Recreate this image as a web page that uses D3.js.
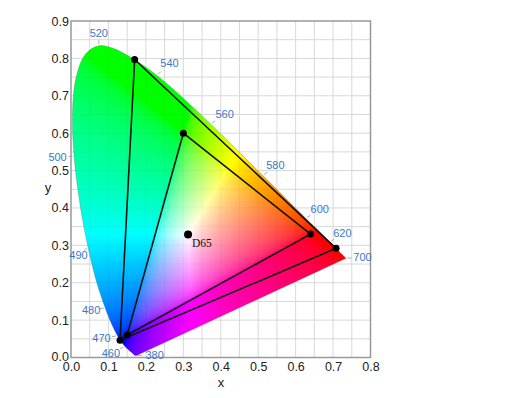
<!DOCTYPE html>
<html>
<head>
<meta charset="utf-8">
<script src="https://cdn.jsdelivr.net/npm/d3@7"></script>
<style>
  body { margin: 0; background: #fff; }
  svg { display: block; font-family: "Liberation Sans", Arial, sans-serif; }
</style>
</head>
<body>
<svg id="chart" width="528" height="398"></svg>
<script>
// CIE 1931 spectral locus, 5 nm steps from 380 to 700 nm
const wavelengths = d3.range(380, 701, 5);
const locusX = [0.1741, 0.1740, 0.1738, 0.1736, 0.1733, 0.1730, 0.1726, 0.1721, 0.1714, 0.1703,
  0.1689, 0.1669, 0.1644, 0.1611, 0.1566, 0.1510, 0.1440, 0.1355, 0.1241, 0.1096,
  0.0913, 0.0687, 0.0454, 0.0235, 0.0082, 0.0039, 0.0139, 0.0389, 0.0743, 0.1142,
  0.1547, 0.1929, 0.2296, 0.2658, 0.3016, 0.3373, 0.3731, 0.4087, 0.4441, 0.4788,
  0.5125, 0.5448, 0.5752, 0.6029, 0.6270, 0.6482, 0.6658, 0.6801, 0.6915, 0.7006,
  0.7079, 0.7140, 0.7190, 0.7230, 0.7260, 0.7283, 0.7300, 0.7311, 0.7320, 0.7327,
  0.7334, 0.7340, 0.7344, 0.7346, 0.7347];
const locusY = [0.0050, 0.0050, 0.0049, 0.0049, 0.0048, 0.0048, 0.0048, 0.0048, 0.0051, 0.0058,
  0.0069, 0.0086, 0.0109, 0.0138, 0.0177, 0.0227, 0.0297, 0.0399, 0.0578, 0.0868,
  0.1327, 0.2007, 0.2950, 0.4127, 0.5384, 0.6548, 0.7502, 0.8120, 0.8338, 0.8262,
  0.8059, 0.7816, 0.7543, 0.7243, 0.6923, 0.6589, 0.6245, 0.5896, 0.5547, 0.5202,
  0.4866, 0.4544, 0.4242, 0.3965, 0.3725, 0.3514, 0.3340, 0.3197, 0.3083, 0.2993,
  0.2920, 0.2859, 0.2809, 0.2770, 0.2740, 0.2717, 0.2700, 0.2689, 0.2680, 0.2673,
  0.2666, 0.2660, 0.2656, 0.2654, 0.2653];

// labelled wavelengths along the locus
const labelWavelengths = [380, 460, 470, 480, 490, 500, 520, 540, 560, 580, 600, 620, 700];

// colour spaces: primaries R, G, B
const rec2020 = [[0.708, 0.292], [0.170, 0.797], [0.131, 0.046]];
const rec709 = [[0.640, 0.330], [0.300, 0.600], [0.150, 0.060]];
const whitePoint = { name: 'D65', x: 0.3127, y: 0.3290 };

const xTicks = d3.range(0, 0.81, 0.1);
const yTicks = d3.range(0, 0.91, 0.1);

const svg = d3.select('#chart');
const plotLeft = 71, plotRight = 370.5, plotTop = 21, plotBottom = 357.5;

const x = d3.scaleLinear().domain([0, 0.8]).range([plotLeft, plotRight]);
const y = d3.scaleLinear().domain([0, 0.9]).range([plotBottom, plotTop]);

const locus = wavelengths.map((w, i) => ({ w: w, x: locusX[i], y: locusY[i] }));

// grid lines every 0.05
function drawGrid(g, color, opacity) {
    g.selectAll(null).data(d3.range(0.05, 0.8, 0.05)).enter().append('line')
        .attr('x1', d => x(d)).attr('x2', d => x(d))
        .attr('y1', plotTop).attr('y2', plotBottom)
        .attr('stroke', color).attr('stroke-opacity', opacity).attr('stroke-width', 1);
    g.selectAll(null).data(d3.range(0.05, 0.9, 0.05)).enter().append('line')
        .attr('y1', d => y(d)).attr('y2', d => y(d))
        .attr('x1', plotLeft).attr('x2', plotRight)
        .attr('stroke', color).attr('stroke-opacity', opacity).attr('stroke-width', 1);
}
drawGrid(svg.append('g'), '#d8d8d8', 1);

// paint chromaticity colours into a canvas, then clip it with the locus
const cw = Math.ceil(plotRight - plotLeft), ch = Math.ceil(plotBottom - plotTop);
const cnv = document.createElement('canvas');
cnv.width = cw; cnv.height = ch;
const ctx = cnv.getContext('2d');
const img = ctx.createImageData(cw, ch);
const gamma = v => v <= 0.0031308 ? 12.92 * v : 1.055 * Math.pow(v, 1 / 2.4) - 0.055;
for (let j = 0; j < ch; j++) {
    const cy = y.invert(plotTop + j + 0.5);
    for (let i = 0; i < cw; i++) {
        const cx = x.invert(plotLeft + i + 0.5);
        const k = (j * cw + i) * 4;
        if (cy <= 0.001) { img.data[k + 3] = 0; continue; }
        const X = cx / cy, Y = 1, Z = (1 - cx - cy) / cy;
        let r = 3.2406 * X - 1.5372 * Y - 0.4986 * Z;
        let g = -0.9689 * X + 1.8758 * Y + 0.0415 * Z;
        let b = 0.0557 * X - 0.2040 * Y + 1.0570 * Z;
        r = Math.max(r, 0); g = Math.max(g, 0); b = Math.max(b, 0);
        const m = Math.max(r, g, b) || 1;
        img.data[k] = Math.round(255 * gamma(r / m));
        img.data[k + 1] = Math.round(255 * gamma(g / m));
        img.data[k + 2] = Math.round(255 * gamma(b / m));
        img.data[k + 3] = 255;
    }
}
ctx.putImageData(img, 0, 0);

// smooth horseshoe, closed by the straight line of purples
const locusLine = d3.line().x(d => x(d.x)).y(d => y(d.y)).curve(d3.curveCatmullRom.alpha(0.5));
const locusPath = locusLine(locus) + 'Z';
svg.append('clipPath').attr('id', 'locus-clip')
    .append('path').attr('d', locusPath);

svg.append('image')
    .attr('x', plotLeft).attr('y', plotTop).attr('width', cw).attr('height', ch)
    .attr('preserveAspectRatio', 'none')
    .attr('href', cnv.toDataURL())
    .attr('clip-path', 'url(#locus-clip)');

svg.append('path').attr('d', locusPath)
    .attr('fill', 'none').attr('stroke', '#666').attr('stroke-width', 0.5).attr('stroke-opacity', 0.6);

// faint grid showing through the fill
drawGrid(svg.append('g').attr('clip-path', 'url(#locus-clip)'), '#000', 0.035);

// plot frame
svg.append('rect')
    .attr('x', plotLeft).attr('y', plotTop)
    .attr('width', plotRight - plotLeft).attr('height', plotBottom - plotTop)
    .attr('fill', 'none').attr('stroke', '#999').attr('stroke-width', 1.5);

// axes (labels only)
const xAxis = svg.append('g').attr('transform', `translate(0,${plotBottom})`)
    .call(d3.axisBottom(x).tickValues(xTicks).tickFormat(d3.format('.1f')).tickSize(0).tickPadding(5));
const yAxis = svg.append('g').attr('transform', `translate(${plotLeft},0)`)
    .call(d3.axisLeft(y).tickValues(yTicks).tickFormat(d3.format('.1f')).tickSize(0).tickPadding(2));
[xAxis, yAxis].forEach(a => {
    a.select('.domain').remove();
    a.selectAll('text').attr('font-size', 12.5).attr('fill', '#222')
        .attr('font-family', '"Liberation Sans", Arial, sans-serif');
});
// the two 0.0 labels share the corner; nudge the y one up a touch
yAxis.selectAll('.tick text').filter(d => d === 0).attr('dy', '0.2em');

svg.append('text').attr('x', 221).attr('y', 387).attr('text-anchor', 'middle')
    .attr('font-size', 13).attr('fill', '#222').text('x');
svg.append('text').attr('x', 48).attr('y', 192).attr('text-anchor', 'middle')
    .attr('font-size', 13).attr('fill', '#222').text('y');

// where each wavelength label sits relative to its locus point (px)
const labelOffset = {
    380: [18.5, -0.5], 460: [-14, 6.5], 470: [-16, 2], 480: [-14, 2], 490: [-9.5, 8],
    500: [-16.5, 1], 520: [0, -13], 540: [12.5, -12.5], 560: [14, -10], 580: [12.5, -10.5],
    600: [14, -9], 620: [12.5, -9], 700: [16.5, -1]
};
const labels = svg.append('g');
labelWavelengths.forEach(wl => {
    const d = locus[wavelengths.indexOf(wl)];
    const px = x(d.x), py = y(d.y);
    const [ox, oy] = labelOffset[wl];
    const len = Math.hypot(ox, oy), ux = ox / len, uy = oy / len;
    labels.append('line')
        .attr('x1', px + ux * 1.5).attr('y1', py + uy * 1.5)
        .attr('x2', px + ux * 5.5).attr('y2', py + uy * 5.5)
        .attr('stroke', '#999').attr('stroke-width', 0.8);
    labels.append('text')
        .attr('x', px + ox).attr('y', py + oy).attr('dy', '0.35em')
        .attr('text-anchor', 'middle')
        .attr('font-size', 11).attr('fill', '#3a78c9')
        .text(wl);
});

// gamut triangles
const tri = d3.line().x(d => x(d[0])).y(d => y(d[1])).curve(d3.curveLinearClosed);
[rec2020, rec709].forEach(prim => {
    svg.append('path').attr('d', tri(prim))
        .attr('fill', 'none').attr('stroke', '#111').attr('stroke-width', 1.6)
        .attr('stroke-linejoin', 'round');
    svg.selectAll(null).data(prim).enter().append('circle')
        .attr('cx', d => x(d[0])).attr('cy', d => y(d[1])).attr('r', 3.5)
        .attr('fill', '#000');
});

// white point
svg.append('circle').attr('cx', x(whitePoint.x)).attr('cy', y(whitePoint.y)).attr('r', 4)
    .attr('fill', '#000');
svg.append('text').attr('x', x(whitePoint.x) + 4).attr('y', y(whitePoint.y) + 12.5)
    .attr('font-family', '"Liberation Serif", "Times New Roman", serif')
    .attr('font-size', 11.5).attr('fill', '#111').text(whitePoint.name);
</script>
</body>
</html>
